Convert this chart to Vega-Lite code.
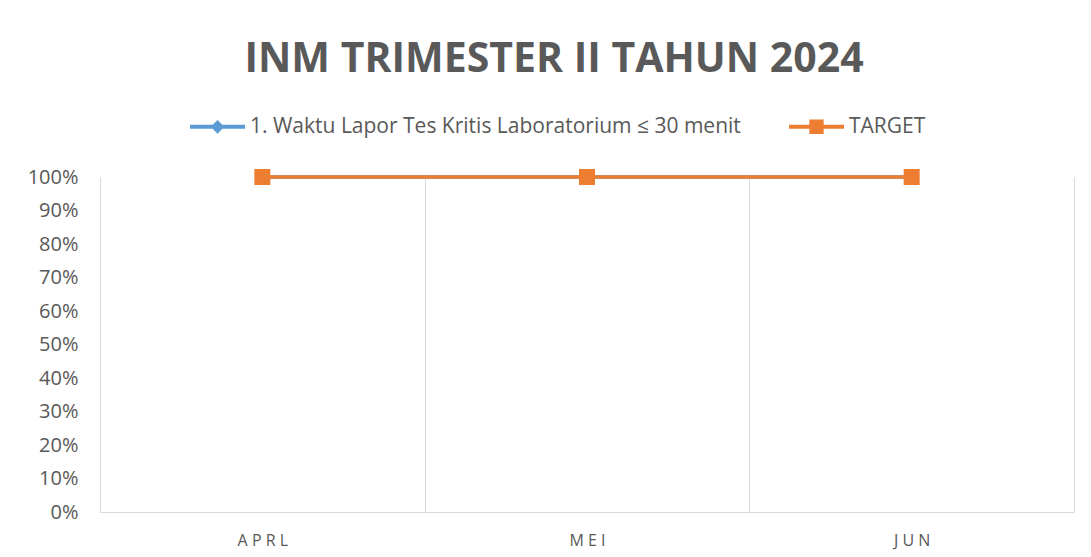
{
  "$schema": "https://vega.github.io/schema/vega-lite/v6.json",
  "autosize": "none",
  "width": 974,
  "height": 335,
  "padding": {"left": 100, "top": 177, "right": 17, "bottom": 45},
  "background": "white",
  "title": {
    "text": "INM TRIMESTER II TAHUN 2024",
    "font": "Open Sans",
    "fontSize": 41,
    "fontWeight": "bold",
    "color": "#595959",
    "anchor": "middle",
    "dx": -33,
    "offset": 18
  },
  "data": {
    "values": [
      {"month": "APRL", "series": "1. Waktu Lapor Tes Kritis Laboratorium ≤ 30 menit", "value": 1},
      {"month": "MEI", "series": "1. Waktu Lapor Tes Kritis Laboratorium ≤ 30 menit", "value": 1},
      {"month": "JUN", "series": "1. Waktu Lapor Tes Kritis Laboratorium ≤ 30 menit", "value": 1},
      {"month": "APRL", "series": "TARGET", "value": 1},
      {"month": "MEI", "series": "TARGET", "value": 1},
      {"month": "JUN", "series": "TARGET", "value": 1}
    ]
  },
  "encoding": {
    "x": {
      "field": "month",
      "type": "nominal",
      "sort": ["APRL", "MEI", "JUN"],
      "scale": {"type": "band", "paddingInner": 0, "paddingOuter": 0},
      "axis": {
        "title": null,
        "labelAngle": 0,
        "ticks": false,
        "grid": true,
        "tickBand": "extent",
        "gridColor": "#d9d9d9",
        "gridWidth": 1,
        "domainColor": "#d9d9d9",
        "domainWidth": 1,
        "labelFont": "Open Sans",
        "labelFontSize": 16,
        "labelColor": "#595959",
        "labelPadding": 20,
        "labelExpr": "join(split(datum.label, ''), ' ')"
      }
    },
    "y": {
      "field": "value",
      "type": "quantitative",
      "scale": {"domain": [0, 1], "nice": false},
      "axis": {
        "title": null,
        "format": ".0%",
        "values": [0, 0.1, 0.2, 0.3, 0.4, 0.5, 0.6, 0.7, 0.8, 0.9, 1],
        "grid": false,
        "domain": false,
        "ticks": false,
        "labelFont": "Open Sans",
        "labelFontSize": 20,
        "labelColor": "#595959",
        "labelPadding": 22
      }
    },
    "color": {
      "field": "series",
      "type": "nominal",
      "sort": ["1. Waktu Lapor Tes Kritis Laboratorium ≤ 30 menit", "TARGET"],
      "scale": {
        "domain": ["1. Waktu Lapor Tes Kritis Laboratorium ≤ 30 menit", "TARGET"],
        "range": ["#5B9BD5", "#ED7D31"]
      },
      "legend": {
        "orient": "none",
        "legendX": 90,
        "legendY": -78,
        "direction": "horizontal",
        "title": null,
        "labelFont": "Open Sans",
        "labelFontSize": 21,
        "labelColor": "#595959",
        "labelLimit": 0,
        "labelOffset": 5,
        "columnPadding": 48,
        "symbolSize": 3025,
        "symbolStrokeWidth": 0,
        "symbolOpacity": 1
      }
    }
  },
  "layer": [
    {
      "mark": {"type": "line", "strokeWidth": 3.5},
      "encoding": {
        "order": {"field": "month", "type": "ordinal"}
      }
    },
    {
      "mark": {"type": "point", "filled": true, "opacity": 0, "size": 3025, "strokeWidth": 0},
      "encoding": {
        "shape": {
          "field": "series",
          "type": "nominal",
          "scale": {
            "domain": ["1. Waktu Lapor Tes Kritis Laboratorium ≤ 30 menit", "TARGET"],
            "range": [
              "M-1,-0.075H1V0.075H-1Z M-0.25,0L0,-0.25L0.25,0L0,0.25Z",
              "M-1,-0.075H1V0.075H-1Z M-0.26,-0.26H0.26V0.26H-0.26Z"
            ]
          },
          "legend": {
            "orient": "none",
            "legendX": 90,
            "legendY": -78,
            "direction": "horizontal",
            "title": null,
            "labelFont": "Open Sans",
            "labelFontSize": 21,
            "labelColor": "#595959",
            "labelLimit": 0,
            "labelOffset": 5,
            "columnPadding": 48,
            "symbolSize": 3025,
            "symbolStrokeWidth": 0,
            "symbolOpacity": 1
          }
        }
      }
    },
    {
      "transform": [{"filter": "datum.series !== 'TARGET'"}],
      "mark": {"type": "point", "filled": true, "opacity": 1, "size": 180, "shape": "diamond"}
    },
    {
      "transform": [{"filter": "datum.series === 'TARGET'"}],
      "mark": {"type": "point", "filled": true, "opacity": 1, "size": 256, "shape": "square"}
    }
  ],
  "config": {
    "view": {"stroke": null}
  }
}
